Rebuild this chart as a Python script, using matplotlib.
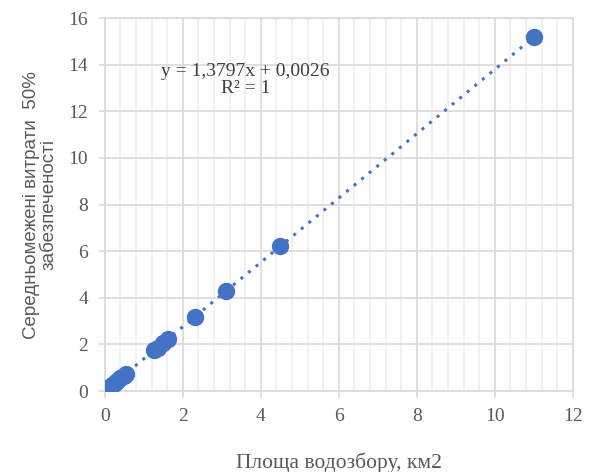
import numpy as np
import matplotlib
matplotlib.use("Agg")
import matplotlib.pyplot as plt
from matplotlib.ticker import MultipleLocator

plt.rcParams["font.family"] = ["Liberation Serif", "DejaVu Serif"]

# площа водозбору, км2 та середньомежені витрати
area = [0.03, 0.08, 0.12, 0.18, 0.25, 0.32, 0.40, 0.48, 0.53,
        1.27, 1.35, 1.50, 1.62, 2.30, 3.10, 4.50, 11.0]
flow = [0.04, 0.11, 0.17, 0.25, 0.35, 0.44, 0.55, 0.66, 0.73,
        1.75, 1.86, 2.07, 2.23, 3.18, 4.28, 6.21, 15.18]

slope = 1.3797
intercept = 0.0026
eq_text = "y = 1,3797x + 0,0026\nR² = 1"

blue = "#4472C4"
grid_major = "#d9d9d9"
grid_minor = "#efefef"
text_col = "#595959"

fig = plt.figure(figsize=(5.96, 4.72), dpi=100)
ax = fig.add_axes([0.176, 0.1716, 0.785, 0.790])

ax.set_xlim(0, 12)
ax.set_ylim(0, 16)
ax.xaxis.set_major_locator(MultipleLocator(2))
ax.xaxis.set_minor_locator(MultipleLocator(0.4))
ax.yaxis.set_major_locator(MultipleLocator(2))

ax.grid(True, which="major", color=grid_major, linewidth=1.2, zorder=0)
ax.grid(True, which="minor", axis="x", color=grid_minor, linewidth=1.2, zorder=0)
ax.set_axisbelow(True)

for s in ax.spines.values():
    s.set_color(grid_major)
    s.set_linewidth(1.2)

ax.tick_params(which="major", length=5, color=grid_major, width=1.2,
               labelsize=14, labelcolor=text_col)
ax.tick_params(which="minor", length=0)
ax.tick_params(axis="x", pad=7)
ax.tick_params(axis="y", length=4, pad=8)

# trend line
xt = np.array([0, max(area)])
ax.plot(xt, slope * xt + intercept, linestyle=(0, (1, 2.2)), color=blue,
        linewidth=2.2, zorder=2)

ax.plot(area, flow, "o", color=blue, markersize=11.5, zorder=3)

ax.text(3.6, 13.35, eq_text, ha="center", va="center", fontsize=14,
        color="#404040", linespacing=1.05)

ax.set_xlabel("Площа водозбору, км2", fontsize=15.5, color=text_col, labelpad=20)
ax.set_ylabel("Середньомежені витрати  50%\nзабезпеченості", fontsize=13.5,
              color=text_col, labelpad=8, linespacing=1.05,
              family=["Liberation Sans Narrow", "Liberation Sans", "DejaVu Sans"])

fig.savefig("out.png", dpi=100)
